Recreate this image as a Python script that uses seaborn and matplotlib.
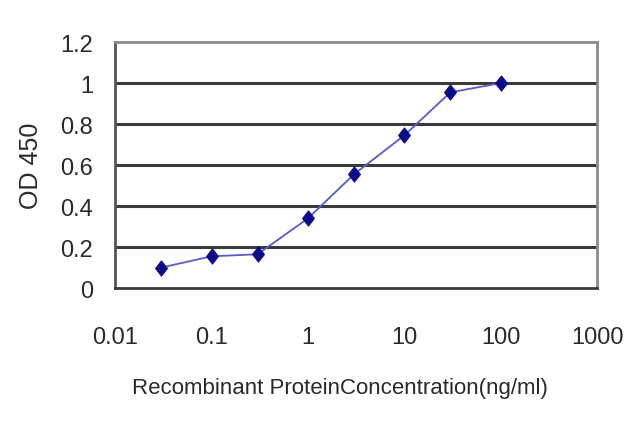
import numpy as np
import pandas as pd
import seaborn as sns
import matplotlib
matplotlib.use("Agg")
import matplotlib.pyplot as plt
from matplotlib.ticker import FixedLocator, FixedFormatter, NullLocator

# values
concentration = [0.03, 0.1, 0.3, 1, 3, 10, 30, 100]
od450 = [0.10, 0.155, 0.165, 0.34, 0.555, 0.745, 0.955, 1.0]
x_ticks = [0.01, 0.1, 1, 10, 100, 1000]
x_tick_labels = ["0.01", "0.1", "1", "10", "100", "1000"]
y_ticks = [0, 0.2, 0.4, 0.6, 0.8, 1.0, 1.2]
y_tick_labels = ["0", "0.2", "0.4", "0.6", "0.8", "1", "1.2"]

df = pd.DataFrame({"conc": concentration, "od": od450})

sns.set_style("white")
plt.rcParams["font.family"] = ["Liberation Sans", "DejaVu Sans"]

fig = plt.figure(figsize=(6.4, 4.27), dpi=100)
ax = fig.add_axes([0.18, 0.323, 0.753, 0.576])

# slightly tall diamond, like the Excel marker
diamond = [(0, 1), (0.78, 0), (0, -1), (-0.78, 0), (0, 1)]
sns.lineplot(data=df, x="conc", y="od", ax=ax, color="#5a5ac8", linewidth=1.3,
             marker=diamond, markersize=11, markerfacecolor="#0c0c8a",
             markeredgecolor="#0c0c8a", zorder=5)

ax.set_xscale("log")
ax.set_xlim(0.01, 1000)
ax.set_ylim(0, 1.2)

ax.xaxis.set_major_locator(FixedLocator(x_ticks))
ax.xaxis.set_major_formatter(FixedFormatter(x_tick_labels))
ax.xaxis.set_minor_locator(NullLocator())
ax.yaxis.set_major_locator(FixedLocator(y_ticks))
ax.yaxis.set_major_formatter(FixedFormatter(y_tick_labels))

for y in y_ticks[1:-1]:
    ax.axhline(y, color="#3a3a3a", linewidth=2.2, zorder=1)

for side in ["top", "right"]:
    ax.spines[side].set_color("#8a8a8a")
    ax.spines[side].set_linewidth(2)
ax.spines["left"].set_color("#555555")
ax.spines["left"].set_linewidth(2)
ax.spines["bottom"].set_color("#3a3a3a")
ax.spines["bottom"].set_linewidth(2)

ax.tick_params(axis="x", direction="in", length=6, width=1.3, color="#444444",
               labelsize=17, pad=27, labelcolor="#2a2a2a")
ax.tick_params(axis="y", length=0, labelsize=17, pad=16, labelcolor="#2a2a2a")

ax.set_xlabel("Recombinant ProteinConcentration(ng/ml)", fontsize=16,
              color="#2a2a2a", va="top")
ax.xaxis.set_label_coords(0.467, -0.36)
ax.set_ylabel("OD 450", fontsize=18, color="#2a2a2a", labelpad=12)

fig.savefig("out.png", dpi=100)
